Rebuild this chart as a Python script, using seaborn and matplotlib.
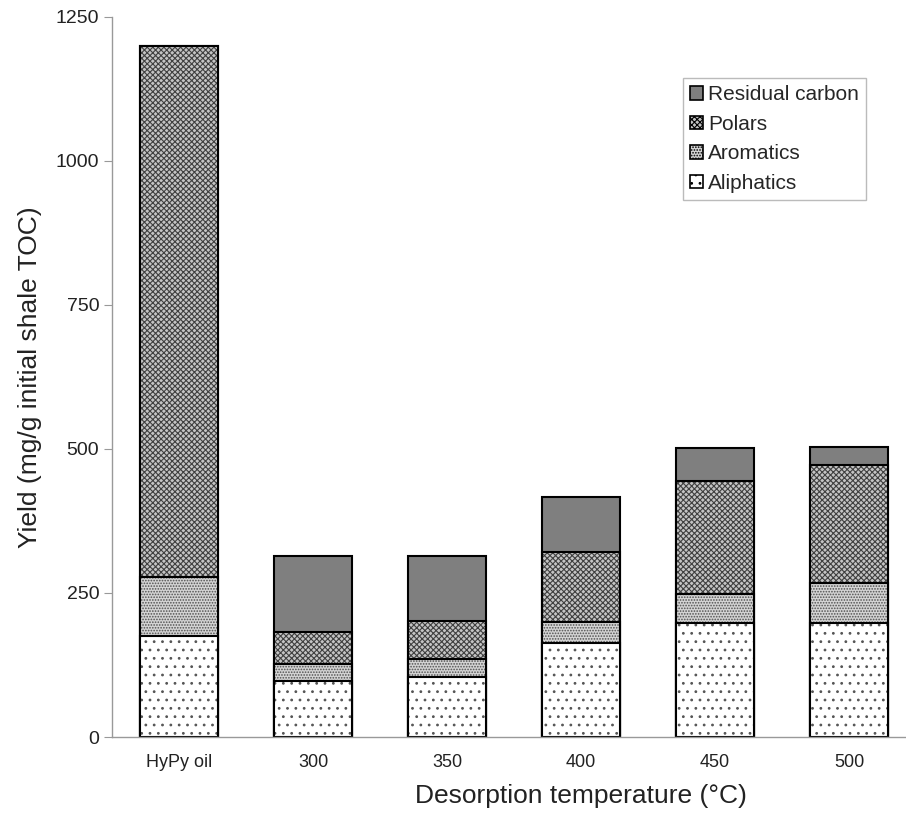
import numpy as np
import pandas as pd
import seaborn as sns
import matplotlib.pyplot as plt
from matplotlib.patches import Patch

# values (mg/g initial shale TOC)
categories = ["HyPy oil", "300", "350", "400", "450", "500"]
aliphatics = [175, 97, 104, 163, 198, 198]
aromatics = [102, 30, 31, 37, 50, 70]
polars = [923, 55, 66, 121, 196, 204]
residual_carbon = [0, 133, 114, 96, 57, 31]

sns.set_style("white")
plt.rcParams["font.family"] = ["Liberation Sans", "DejaVu Sans"]
plt.rcParams["hatch.linewidth"] = 0.8

# name, values, face colour, hatch, hatch colour
layers = [
    ("Residual carbon", residual_carbon, "#7f7f7f", "", "#7f7f7f"),
    ("Polars", polars, "#c4c4c4", "xxxxxx", "#404040"),
    ("Aromatics", aromatics, "#d4d4d4", "......", "#505050"),
    ("Aliphatics", aliphatics, "white", "..", "#555555"),
]
cum = np.array(aliphatics) + np.array(aromatics) + np.array(polars) + np.array(residual_carbon)

fig = plt.figure(figsize=(9.06, 8.22), dpi=100)
ax = fig.add_axes([0.124, 0.1034, 0.887, 0.876])

# stacked bars: draw cumulative totals from the top layer down,
# first the hatched fill (hatch takes the edge colour), then a black outline
handles = []
for name, vals, fc, hatch, hc in layers:
    df = pd.DataFrame({"cat": categories, "val": cum})
    sns.barplot(data=df, x="cat", y="val", order=categories, ax=ax,
                color=fc, width=0.58, edgecolor=hc, linewidth=0,
                hatch=hatch, saturation=1)
    sns.barplot(data=df, x="cat", y="val", order=categories, ax=ax,
                fill=False, width=0.58, edgecolor="black", linewidth=1.5,
                color="black")
    handles.append(Patch(facecolor=fc, edgecolor="black", hatch=hatch, linewidth=1.2, label=name))
    cum = cum - np.array(vals)

ax.set_ylim(0, 1250)
ax.set_xlim(-0.5, 5.5)
ax.set_yticks([0, 250, 500, 750, 1000, 1250])
ax.set_xticks(np.arange(0.5, 6, 1), minor=True)
ax.tick_params(axis="x", which="major", length=0, labelsize=13, pad=12, labelcolor="#222222")
ax.tick_params(axis="x", which="minor", length=5, color="#999999")
ax.tick_params(axis="y", length=6, color="#999999", labelsize=14, left=True, labelcolor="#222222")
for s in ["top", "right"]:
    ax.spines[s].set_visible(False)
for s in ["left", "bottom"]:
    ax.spines[s].set_color("#999999")
    ax.spines[s].set_linewidth(1)

ax.set_xlabel("Desorption temperature (°C)", fontsize=19, color="#222222")
ax.xaxis.set_label_coords(0.583, -0.065)
ax.set_ylabel("Yield (mg/g initial shale TOC)", fontsize=19, labelpad=10, color="#222222")

leg = ax.legend(handles=handles, loc="upper left", bbox_to_anchor=(0.71, 0.915),
                borderaxespad=0, fontsize=15, frameon=True, fancybox=False,
                edgecolor="#aaaaaa", handlelength=0.6, handleheight=0.6,
                handletextpad=0.25, labelspacing=0.5, borderpad=0.35)
leg.get_frame().set_linewidth(1)

fig.savefig("out.png", dpi=100)
